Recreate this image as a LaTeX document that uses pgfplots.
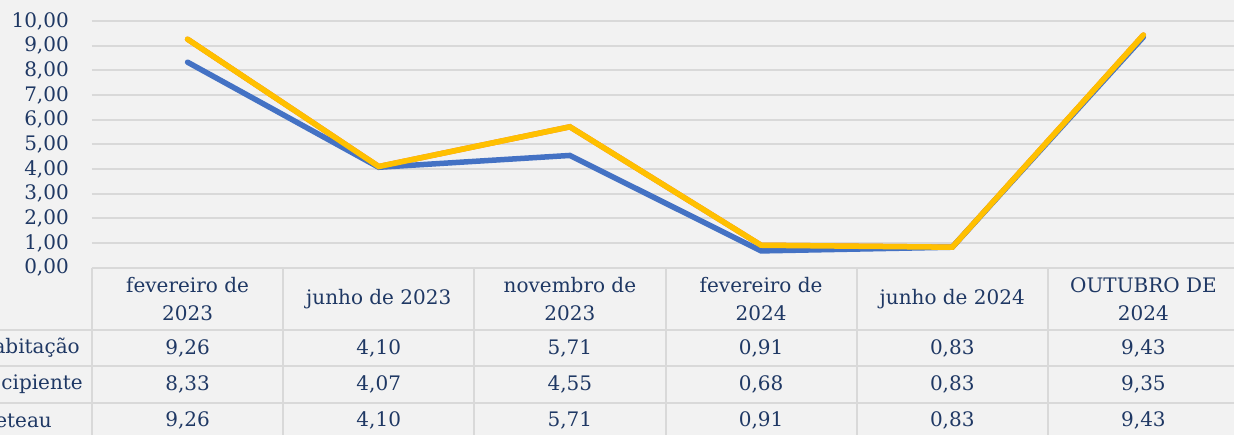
\documentclass[border=0pt]{standalone}
\usepackage{pgfplots}
\pgfplotsset{compat=1.18}
\usepackage{fontspec}
\setmainfont{DejaVu Serif}
\definecolor{navy}{HTML}{1F3864}
\definecolor{bg}{HTML}{F2F2F2}
\definecolor{gridc}{HTML}{D9D9D9}
\definecolor{cblue}{HTML}{4472C4}
\definecolor{cyellow}{HTML}{FFC000}
\definecolor{corange}{HTML}{ED7D31}
\pgfplotstableread{
x s1 s2 s3
0 9.26 8.33 9.26
1 4.10 4.07 4.10
2 5.71 4.55 5.71
3 0.91 0.68 0.91
4 0.83 0.83 0.83
5 9.43 9.35 9.43
}\data
\newcommand{\tf}{\fontsize{20}{28}\selectfont\color{navy}}
\begin{document}
\begin{tikzpicture}[x=1pt,y=1pt]
\clip (0,0) rectangle (1234,435);
\fill[bg] (0,0) rectangle (1234,435);
\begin{axis}[at={(92pt,167.3pt)}, anchor=south west, scale only axis,
  width=1147pt, height=246.7pt,
  xmin=-0.5, xmax=5.5, ymin=0, ymax=10,
  ytick={0,1,...,10}, xtick=\empty,
  axis line style={draw=none},
  ymajorgrids, grid style={draw=gridc, line width=2pt},
  major tick length=0pt,
  yticklabel style={font=\fontsize{20}{24}\selectfont, text=navy, inner sep=0pt, xshift=-23pt, anchor=east},
  /pgf/number format/.cd, fixed, fixed zerofill, precision=2, use comma, assume math mode=true]
\addplot[corange, line width=5.5pt, line cap=round] table[x=x, y=s1] {\data};
\addplot[cblue, line width=5.5pt, line cap=round] table[x=x, y=s2] {\data};
\addplot[cyellow, line width=5.5pt, line cap=round] table[x=x, y=s3] {\data};
\end{axis}
% data table grid
\foreach \yy in {105,68.7,32.3} \draw[gridc, line width=2pt] (0,\yy) -- (1234,\yy);
\foreach \k in {0,...,6} \draw[gridc, line width=2pt] ({92+191.17*\k},167.3) -- ({92+191.17*\k},0);
% header
\foreach \k/\t in {0/{fevereiro de\\2023}, 1/{junho de 2023}, 2/{novembro de\\2023}, 3/{fevereiro de\\2024}, 4/{junho de 2024}, 5/{OUTUBRO DE\\2024}}
  \node[align=center, inner sep=0pt, font=\tf] at ({92+191.17*(\k+0.5)},136) {\t};
% rows
\node[anchor=east, inner sep=0pt, font=\tf] at (80,87) {abitação};
\node[anchor=east, inner sep=0pt, font=\tf] at (83,50.5) {cipiente};
\node[anchor=east, inner sep=0pt, font=\tf] at (52,14.2) {eteau};
\foreach \k/\a/\b/\c in {0/{9,26}/{8,33}/{9,26}, 1/{4,10}/{4,07}/{4,10}, 2/{5,71}/{4,55}/{5,71}, 3/{0,91}/{0,68}/{0,91}, 4/{0,83}/{0,83}/{0,83}, 5/{9,43}/{9,35}/{9,43}}
{
  \node[inner sep=0pt, font=\tf] at ({92+191.17*(\k+0.5)},87) {\a};
  \node[inner sep=0pt, font=\tf] at ({92+191.17*(\k+0.5)},50.5) {\b};
  \node[inner sep=0pt, font=\tf] at ({92+191.17*(\k+0.5)},14.2) {\c};
}
\end{tikzpicture}
\end{document}
